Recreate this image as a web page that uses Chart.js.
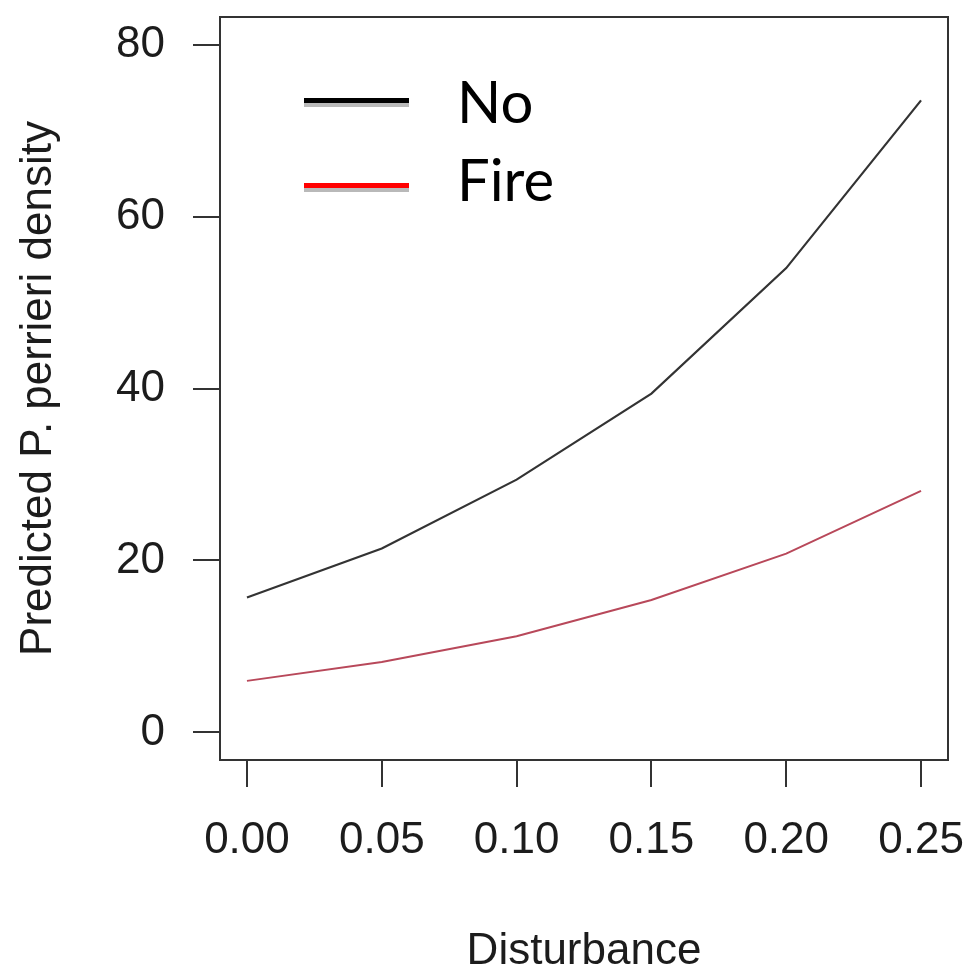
<!DOCTYPE html>
<html>
<head>
<meta charset="utf-8">
<script src="https://cdn.jsdelivr.net/npm/chart.js@4/dist/chart.umd.min.js"></script>
<style>
  html, body { margin: 0; padding: 0; background: #ffffff; }
  #wrap { width: 970px; height: 971px; }
</style>
</head>
<body>
<div id="wrap"><canvas id="c" width="970" height="971"></canvas></div>
<script>
// Predicted density along the disturbance gradient, by fire history
const disturbance = [0.00, 0.05, 0.10, 0.15, 0.20, 0.25];
const densityNo   = [15.7, 21.4, 29.4, 39.4, 54.0, 73.5];
const densityFire = [6.0, 8.2, 11.2, 15.4, 20.8, 28.1];
const seriesNames = ['No', 'Fire'];
const xTickValues = [0.00, 0.05, 0.10, 0.15, 0.20, 0.25];
const yTickValues = [0, 20, 40, 60, 80];

const AXIS_FONT = 'Liberation Sans, Arial, Helvetica, sans-serif';
const INK = '#1c1c1c';
const FRAME = '#333333';

const toPoints = (xs, ys) => xs.map((x, i) => ({ x: x, y: ys[i] }));

// Fixed-size axis boxes, with no extra room reserved for the end labels
const fixBox = (s, prop, size) => {
  s[prop] = size;
  s.paddingTop = 0; s.paddingBottom = 0; s.paddingLeft = 0; s.paddingRight = 0;
};

// Box around the plotting region (R-style bty = "o")
const framePlugin = {
  id: 'frame',
  afterDraw(chart) {
    const { ctx, chartArea: a } = chart;
    ctx.save();
    ctx.strokeStyle = FRAME;
    ctx.lineWidth = 2;
    ctx.strokeRect(a.left, a.top, a.right - a.left, a.bottom - a.top);
    ctx.restore();
  }
};

// Key in the upper left: thick swatch with a soft grey underside, then the label
const keyPlugin = {
  id: 'key',
  afterDraw(chart, args, opts) {
    const { ctx } = chart;
    ctx.save();
    chart.data.datasets.forEach((ds, i) => {
      const y = opts.lineY[i];
      ctx.fillStyle = '#b9b9b9';
      ctx.fillRect(opts.x0, y + 2.5, opts.x1 - opts.x0, 4);
      ctx.fillStyle = opts.colors[i];
      ctx.fillRect(opts.x0, y - 2.5, opts.x1 - opts.x0, 5);
      ctx.fillStyle = '#000000';
      ctx.font = opts.font;
      ctx.textAlign = 'left';
      ctx.textBaseline = 'alphabetic';
      ctx.fillText(ds.label, opts.textX, opts.textY[i]);
    });
    ctx.restore();
  }
};

new Chart(document.getElementById('c'), {
  type: 'line',
  data: {
    datasets: [
      {
        label: seriesNames[0],
        data: toPoints(disturbance, densityNo),
        borderColor: '#333333',
        borderWidth: 2.2,
        pointRadius: 0,
        tension: 0,
        fill: false
      },
      {
        label: seriesNames[1],
        data: toPoints(disturbance, densityFire),
        borderColor: '#b8485a',
        borderWidth: 2,
        pointRadius: 0,
        tension: 0,
        fill: false
      }
    ]
  },
  options: {
    responsive: false,
    animation: false,
    devicePixelRatio: 1,
    events: [],
    layout: { padding: { top: 17, right: 22, left: 0, bottom: 0 } },
    plugins: {
      legend: { display: false },
      tooltip: { enabled: false },
      key: {
        x0: 304, x1: 409,
        lineY: [100.5, 185.5],
        textX: 457,
        textY: [123, 201],
        colors: ['#000000', '#ff0000'],
        font: '58px Lato, "Open Sans", sans-serif'
      }
    },
    scales: {
      x: {
        type: 'linear',
        min: -0.01,
        max: 0.26,
        afterBuildTicks: s => { s.ticks = xTickValues.map(v => ({ value: v })); },
        afterFit: s => fixBox(s, 'height', 211),
        grid: { drawOnChartArea: false, drawTicks: true, tickLength: 27, color: FRAME, lineWidth: 2 },
        border: { display: true, color: FRAME, width: 2 },
        ticks: {
          autoSkip: false, maxRotation: 0, minRotation: 0,
          padding: 27,
          color: INK,
          font: { family: AXIS_FONT, size: 44 },
          callback: v => Number(v).toFixed(2)
        },
        title: {
          display: true,
          text: 'Disturbance',
          color: INK,
          font: { family: AXIS_FONT, size: 44, lineHeight: 0.85 },
          padding: 0
        }
      },
      y: {
        type: 'linear',
        min: -3.2,
        max: 83.2,
        afterBuildTicks: s => { s.ticks = yTickValues.map(v => ({ value: v })); },
        afterFit: s => fixBox(s, 'width', 220),
        grid: { drawOnChartArea: false, drawTicks: true, tickLength: 27, color: FRAME, lineWidth: 2 },
        border: { display: true, color: FRAME, width: 2 },
        ticks: {
          padding: 28,
          color: INK,
          font: { family: AXIS_FONT, size: 44 },
          callback: v => String(v)
        },
        title: {
          display: true,
          text: 'Predicted P. perrieri density',
          color: INK,
          font: { family: AXIS_FONT, size: 44 },
          padding: { top: 12, bottom: 0 }
        }
      }
    }
  },
  plugins: [framePlugin, keyPlugin]
});
</script>
</body>
</html>
